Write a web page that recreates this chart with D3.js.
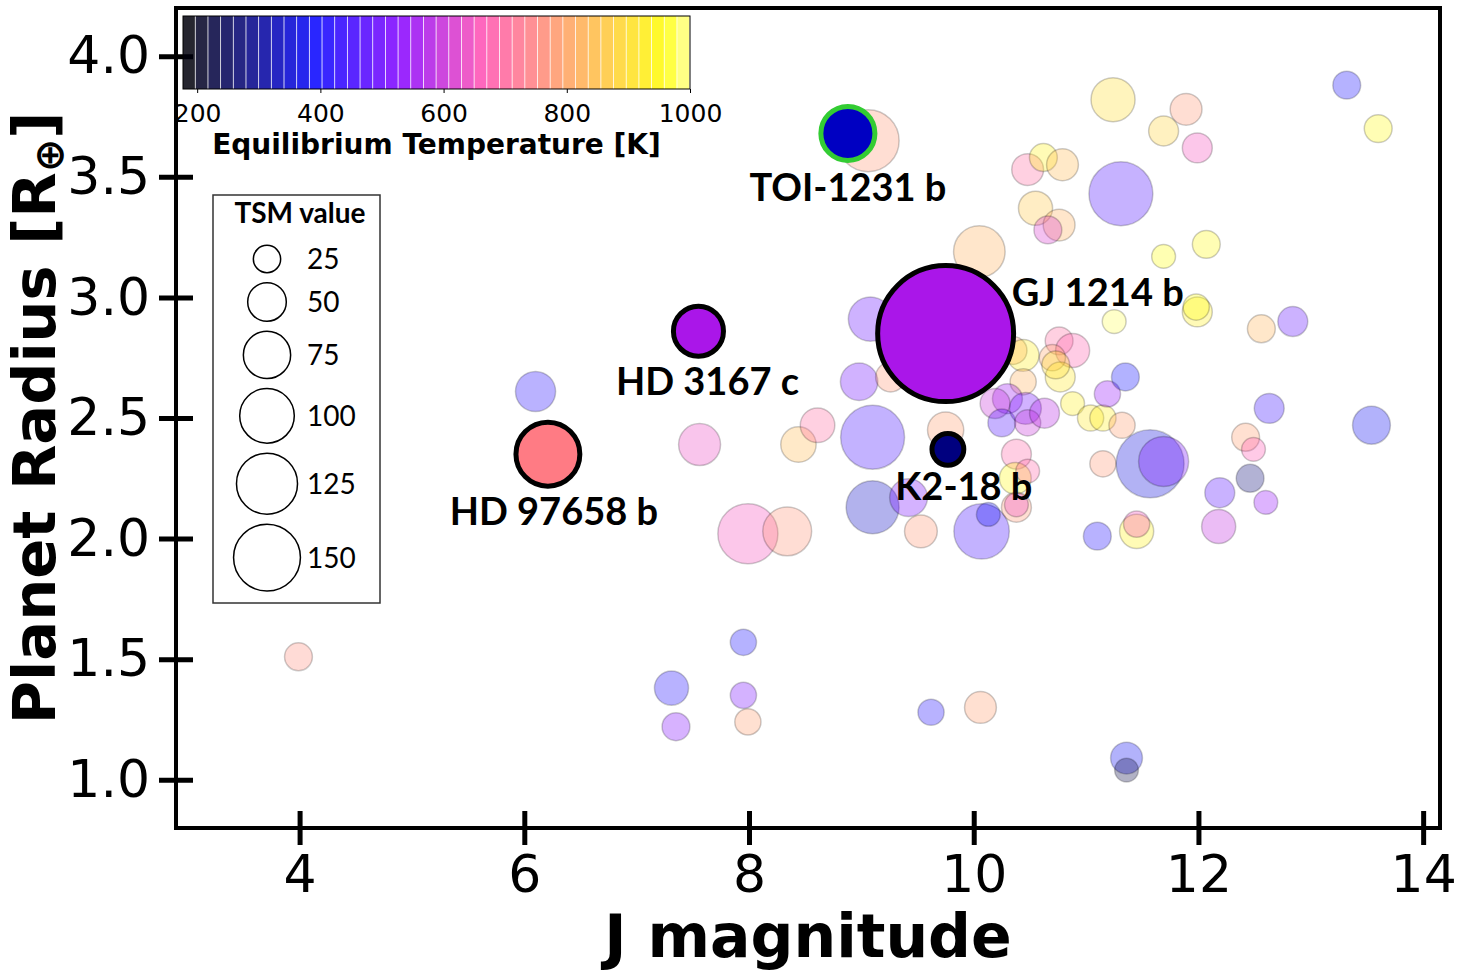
<!DOCTYPE html>
<html>
<head>
<meta charset="utf-8">
<script src="https://cdn.jsdelivr.net/npm/d3@7"></script>
<style>
  body { margin: 0; background: #fff; }
  svg { display: block; }
</style>
</head>
<body>
<div class="canvas"></div>
<script>
// background planets (J mag, radius in Earth radii, TSM, Teq in K)
const jmag = [3.99, 6.10, 9.06, 7.56, 7.99, 8.34, 8.44, 8.61, 9.10, 8.98,
  9.26, 9.10, 9.42, 9.53, 9.75, 10.07, 10.13, 10.05, 9.08, 10.35,
  10.44, 10.44, 10.76, 10.88, 10.70, 10.77, 10.73, 11.25, 10.30, 10.19,
  10.25, 10.46, 10.48, 10.63, 10.88, 11.04, 11.15, 11.19, 11.35, 11.32,
  10.38, 10.37, 10.48, 10.38, 10.38, 11.15, 11.57, 11.69, 12.63, 13.54,
  12.42, 12.49, 12.46, 12.19, 12.60, 12.18, 11.10, 11.45, 11.45, 10.06,
  11.36, 11.36, 13.32, 13.60, 11.24, 11.89, 11.69, 11.99, 10.48, 10.62,
  10.79, 11.31, 10.55, 10.76, 10.66, 11.69, 12.07, 11.99, 11.98, 12.56,
  12.84, 7.31, 7.35, 7.95, 7.95, 7.99, 9.62];
const radius = [1.51, 2.61, 3.65, 2.39, 2.02, 2.03, 2.39, 2.47, 2.42, 2.65,
  2.67, 2.13, 2.17, 2.03, 2.45, 2.03, 2.10, 3.19, 2.91, 2.78,
  2.76, 2.65, 2.82, 2.78, 2.75, 2.67, 2.72, 2.90, 2.58, 2.56,
  2.48, 2.54, 2.48, 2.52, 2.56, 2.50, 2.50, 2.60, 2.67, 2.47,
  2.35, 2.25, 2.28, 2.13, 2.14, 2.31, 2.31, 2.32, 2.54, 2.47,
  2.42, 2.37, 2.25, 2.19, 2.15, 2.05, 2.01, 2.03, 2.06, 1.30,
  1.09, 1.04, 3.88, 3.70, 3.82, 3.78, 3.69, 3.62, 3.53, 3.58,
  3.55, 3.43, 3.37, 3.30, 3.28, 3.17, 3.22, 2.94, 2.96, 2.87,
  2.90, 1.38, 1.22, 1.57, 1.35, 1.24, 1.28];
const tsm = [26, 54, 129, 59, 121, 80, 42, 40, 137, 47,
  30, 94, 48, 36, 44, 103, 19, 89, 65, 26,
  34, 23, 26, 39, 23, 30, 26, 19, 30, 30,
  26, 34, 23, 30, 19, 23, 23, 23, 26, 23,
  30, 34, 19, 30, 19, 23, 155, 84, 30, 48,
  26, 19, 26, 30, 19, 39, 26, 39, 23, 34,
  34, 19, 26, 26, 65, 34, 30, 30, 34, 26,
  34, 137, 39, 34, 26, 19, 26, 30, 23, 26,
  30, 39, 26, 23, 23, 23, 23];
const teq = [760, 420, 780, 640, 650, 770, 840, 700, 450, 500,
  780, 340, 510, 780, 790, 450, 380, 820, 490, 790,
  930, 820, 700, 680, 800, 920, 900, 980, 550, 600,
  460, 500, 600, 580, 930, 920, 930, 540, 390, 790,
  690, 950, 690, 780, 640, 780, 360, 510, 440, 380,
  790, 670, 270, 470, 540, 590, 410, 940, 650, 790,
  380, 230, 400, 950, 900, 780, 880, 650, 700, 940,
  840, 460, 860, 820, 620, 960, 950, 930, 960, 830,
  480, 410, 520, 400, 510, 790, 410];

// highlighted planets
const names = ['TOI-1231 b', 'GJ 1214 b', 'HD 3167 c', 'HD 97658 b', 'K2-18 b'];
const namedJ = [8.88, 9.75, 7.55, 6.21, 9.77];
const namedR = [3.68, 2.85, 2.86, 2.35, 2.37];
const namedTSM = [98, 620, 84, 137, 34];
const namedTeq = [339, 571, 571, 740, 283];

// ticks
const xTicks = [4, 6, 8, 10, 12, 14];
const yTicks = [1.0, 1.5, 2.0, 2.5, 3.0, 3.5, 4.0];
const cbarTicks = [200, 400, 600, 800, 1000];
const legendTSM = [25, 50, 75, 100, 125, 150];

// label placement for the highlighted planets (offsets from the marker)
const labelStyle = {
  'TOI-1231 b': {dx: 0, dy: 68, anchor: 'middle', edge: '#33cc33'},
  'GJ 1214 b': {dx: 66, dy: -28, anchor: 'start', edge: '#000'},
  'HD 3167 c': {dx: 9, dy: 64, anchor: 'middle', edge: '#000'},
  'HD 97658 b': {dx: 6, dy: 71, anchor: 'middle', edge: '#000'},
  'K2-18 b': {dx: 16, dy: 51, anchor: 'middle', edge: '#000'}
};

// svg container
const svg = d3.select('.canvas')
  .append('svg')
    .attr('width', 1459)
    .attr('height', 973);

const margin = {top: 8, right: 19, bottom: 145, left: 176};
const graphWidth = 1459 - margin.left - margin.right;
const graphHeight = 973 - margin.top - margin.bottom;

const graph = svg.append('g')
  .attr('transform', `translate(${margin.left}, ${margin.top})`);

svg.append('defs').append('clipPath')
    .attr('id', 'plot-clip')
  .append('rect')
    .attr('width', graphWidth)
    .attr('height', graphHeight);

// scales
const x = d3.scaleLinear().domain([2.9, 14.15]).range([0, graphWidth]);
const y = d3.scaleLinear().domain([0.8, 4.2]).range([graphHeight, 0]);
const size = d3.scaleSqrt().domain([0, 100]).range([0, 27.3]);

// gnuplot2-like colour map
const clamp01 = v => Math.max(0, Math.min(1, v));
const gnuplot2 = t => {
  const r = clamp01(t / 0.32 - 0.78125);
  const g = clamp01(2 * t - 0.84);
  let b;
  if (t < 0.25) b = 4 * t;
  else if (t < 0.42) b = 1;
  else if (t < 0.92) b = -2 * t + 1.84;
  else b = t / 0.08 - 11.5;
  return d3.rgb(r * 255, g * 255, clamp01(b) * 255).formatHex();
};
const color = d3.scaleSequential(gnuplot2).domain([177, 1028]).clamp(true);

// background points
const points = jmag.map((j, i) => ({j, r: radius[i], tsm: tsm[i], teq: teq[i]}));

const plot = graph.append('g').attr('clip-path', 'url(#plot-clip)');

plot.selectAll('circle.bg')
  .data(points)
  .enter()
  .append('circle')
    .attr('class', 'bg')
    .attr('cx', d => x(d.j))
    .attr('cy', d => y(d.r))
    .attr('r', d => size(d.tsm))
    .attr('fill', d => color(d.teq))
    .attr('fill-opacity', 0.3)
    .attr('stroke', '#000')
    .attr('stroke-opacity', 0.2)
    .attr('stroke-width', 1.5);

// highlighted planets
const named = names.map((n, i) => ({name: n, j: namedJ[i], r: namedR[i], tsm: namedTSM[i], teq: namedTeq[i]}));

plot.selectAll('circle.named')
  .data(named)
  .enter()
  .append('circle')
    .attr('class', 'named')
    .attr('cx', d => x(d.j))
    .attr('cy', d => y(d.r))
    .attr('r', d => size(d.tsm))
    .attr('fill', d => color(d.teq))
    .attr('stroke', d => labelStyle[d.name].edge)
    .attr('stroke-width', 5);

graph.selectAll('text.name')
  .data(named)
  .enter()
  .append('text')
    .attr('class', 'name')
    .attr('x', d => x(d.j) + labelStyle[d.name].dx)
    .attr('y', d => y(d.r) + labelStyle[d.name].dy)
    .attr('text-anchor', d => labelStyle[d.name].anchor)
    .attr('font-family', 'Lato, "Open Sans", sans-serif')
    .attr('font-weight', 700)
    .attr('font-size', 38)
    .text(d => d.name);

// axes
const xAxisGroup = graph.append('g')
  .attr('transform', `translate(0, ${graphHeight})`);
const yAxisGroup = graph.append('g');

const xAxis = d3.axisBottom(x).tickValues(xTicks).tickSize(17).tickPadding(10).tickFormat(d3.format('d'));
const yAxis = d3.axisLeft(y).tickValues(yTicks).tickSize(17).tickPadding(9).tickFormat(d3.format('.1f'));

xAxisGroup.call(xAxis);
yAxisGroup.call(yAxis);

[xAxisGroup, yAxisGroup].forEach(g => {
  g.select('.domain').remove();
  g.selectAll('text')
    .attr('fill', '#000')
    .attr('font-family', '"DejaVu Sans", sans-serif')
    .attr('font-size', 52);
  g.selectAll('.tick line')
    .attr('stroke', '#000')
    .attr('stroke-width', 5);
});
xAxisGroup.selectAll('.tick line').attr('y1', -17).attr('y2', 17);
yAxisGroup.selectAll('.tick line').attr('x1', 17).attr('x2', -17);

// frame
graph.append('rect')
  .attr('width', graphWidth)
  .attr('height', graphHeight)
  .attr('fill', 'none')
  .attr('stroke', '#000')
  .attr('stroke-width', 4);

// axis titles
svg.append('text')
  .attr('x', margin.left + graphWidth / 2)
  .attr('y', 957)
  .attr('text-anchor', 'middle')
  .attr('font-family', '"DejaVu Sans", sans-serif')
  .attr('font-weight', 'bold')
  .attr('font-size', 60)
  .text('J magnitude');

const yTitle = svg.append('text')
  .attr('transform', `translate(55, ${margin.top + graphHeight / 2}) rotate(-90)`)
  .attr('text-anchor', 'middle')
  .attr('font-family', '"DejaVu Sans", sans-serif')
  .attr('font-weight', 'bold')
  .attr('font-size', 59);
yTitle.append('tspan').text('Planet Radius [R');
yTitle.append('tspan').attr('font-size', 40).attr('dy', 8).text('\u2295');
yTitle.append('tspan').attr('dy', -8).text(']');

// colour bar inset
const cb = d3.scaleLinear().domain([177, 1000]).range([183, 690]);
const cbTop = 16, cbHeight = 73;
const nBands = 40;
const bandEdges = d3.range(nBands + 1).map(i => 177 + i * (1000 - 177) / nBands);

const cbar = svg.append('g');
cbar.selectAll('rect.band')
  .data(d3.pairs(bandEdges))
  .enter()
  .append('rect')
    .attr('class', 'band')
    .attr('x', d => cb(d[0]))
    .attr('y', cbTop)
    .attr('width', d => cb(d[1]) - cb(d[0]) - 0.8)
    .attr('height', cbHeight)
    .attr('fill', d => color((d[0] + d[1]) / 2))
    .attr('fill-opacity', 0.85);

cbar.append('rect')
  .attr('x', cb(177))
  .attr('y', cbTop)
  .attr('width', cb(1000) - cb(177))
  .attr('height', cbHeight)
  .attr('fill', 'none')
  .attr('stroke', '#000')
  .attr('stroke-width', 1);

const cbAxisGroup = cbar.append('g')
  .attr('transform', `translate(0, ${cbTop + cbHeight})`)
  .call(d3.axisBottom(cb).tickValues(cbarTicks).tickSize(4).tickPadding(11).tickFormat(d3.format('d')));
cbAxisGroup.select('.domain').remove();
cbAxisGroup.selectAll('.tick line').attr('stroke', '#000').attr('stroke-width', 1);
cbAxisGroup.selectAll('text')
  .attr('fill', '#000')
  .attr('font-family', '"DejaVu Sans", sans-serif')
  .attr('font-size', 25);

cbar.append('text')
  .attr('x', (cb(177) + cb(1000)) / 2)
  .attr('y', 154)
  .attr('text-anchor', 'middle')
  .attr('font-family', '"DejaVu Sans", sans-serif')
  .attr('font-weight', 'bold')
  .attr('font-size', 28)
  .text('Equilibrium Temperature [K]');

// size legend
const legend = svg.append('g');
legend.append('rect')
  .attr('x', 213)
  .attr('y', 195)
  .attr('width', 167)
  .attr('height', 408)
  .attr('fill', '#fff')
  .attr('stroke', '#333')
  .attr('stroke-width', 1.5);

legend.append('text')
  .attr('x', 300)
  .attr('y', 223)
  .attr('text-anchor', 'middle')
  .attr('font-family', 'Lato, "Open Sans", sans-serif')
  .attr('font-weight', 700)
  .attr('font-size', 28)
  .text('TSM value');

// stack the legend circles with a 10px gap
const legendY = [];
legendTSM.forEach((v, i) => {
  if (i === 0) legendY.push(259);
  else legendY.push(legendY[i - 1] + size(legendTSM[i - 1]) + size(v) + 10);
});

const items = legend.selectAll('g.item')
  .data(legendTSM)
  .enter()
  .append('g')
    .attr('class', 'item')
    .attr('transform', (d, i) => `translate(267, ${legendY[i]})`);

items.append('circle')
  .attr('r', d => size(d))
  .attr('fill', 'none')
  .attr('stroke', '#000')
  .attr('stroke-width', 1.5);

items.append('text')
  .attr('x', 40)
  .attr('dy', '0.36em')
  .attr('font-family', 'Lato, "Open Sans", sans-serif')
  .attr('font-size', 28)
  .text(d => d);
</script>
</body>
</html>
